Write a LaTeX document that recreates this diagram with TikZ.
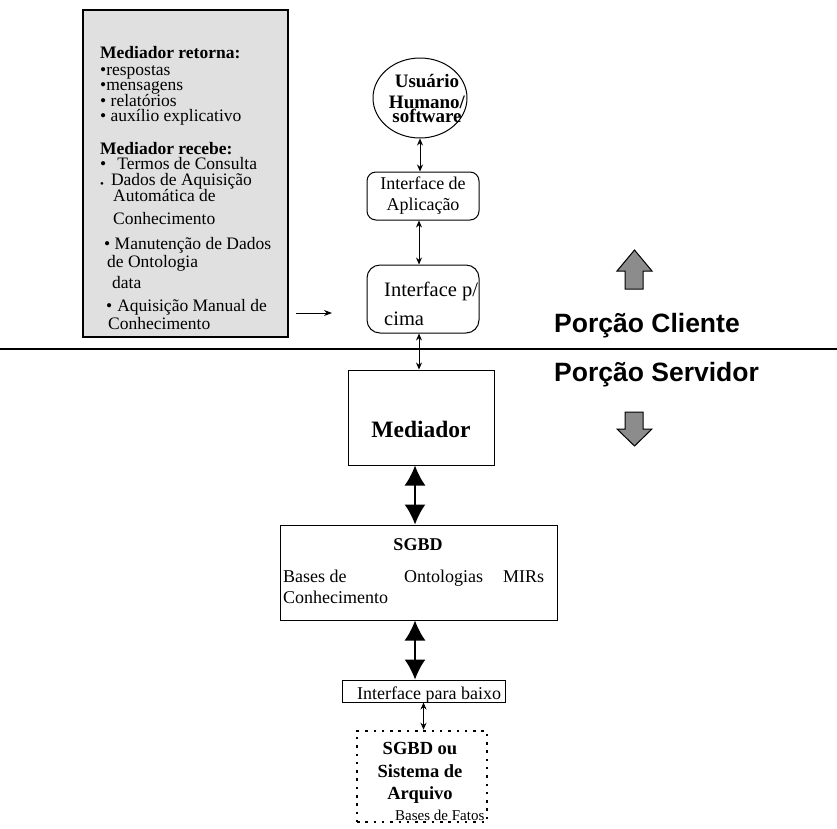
\documentclass[tikz,border=0pt]{standalone}
\usepackage{fontspec}
\setmainfont{Liberation Serif}
\setsansfont{Liberation Sans}
\usetikzlibrary{arrows.meta,shapes.geometric}

\tikzset{
  box/.style={draw, line width=1pt, inner sep=0},
  roundbox/.style={box, rounded corners=9pt},
  notetext/.style={anchor=base west, inner sep=0, font=\fontsize{17.5}{18}\selectfont},
  plain/.style={inner sep=0, font=\fontsize{18}{21}\selectfont},
  link/.style={{Stealth[length=7pt,width=6pt]}-{Stealth[length=7pt,width=6pt]}, line width=1pt},
  biglink/.style={{Latex[length=20pt,width=21pt]}-{Latex[length=20pt,width=21pt]}, line width=1.5pt},
  portion/.style={anchor=base west, inner sep=0, font=\sffamily\bfseries\fontsize{26.5}{28}\selectfont},
  blockarrow/.style={draw, line width=1pt, fill=black!45},
}

\begin{document}
\begin{tikzpicture}[x=1pt, y=-1pt]

        \useasboundingbox (0,0) rectangle (837,828);

        % caixa de notas
        \node[box, line width=1.5pt, fill=black!12, minimum width=205pt, minimum height=327pt] (notes) at (185.5,173.5) {};
        \foreach \x/\y/\t [count=\i] in {
                100/58/{\textbf{Mediador retorna:}},
                100/75/{•respostas},
                100/90/{•mensagens},
                100/106/{• relatórios},
                100/121/{• auxílio explicativo},
                100/154/{\textbf{Mediador recebe:}},
                100/169/{•\hspace{11pt}Termos de Consulta},
                100/185/{\raisebox{-2pt}{\fontsize{11}{11}\selectfont •}\hspace{7pt}Dados de Aquisição},
                113/201/{Automática de},
                113/224/{Conhecimento},
                104/249/{• Manutenção de Dados},
                107/267/{de Ontologia},
                112/288/{data},
                106/311/{•\hspace{5pt}Aquisição Manual de},
                108/329/{Conhecimento}}
                \node[notetext] (note\i) at (\x,\y) {\t};

        \coordinate (hin) at (296,313);
        \coordinate (hout) at (332,313);
        \draw[-{Stealth[length=8pt,width=6pt]}, line width=1pt] (hin) -- (hout);

        % lado cliente
        \node[draw, ellipse, line width=1pt, minimum width=94pt, minimum height=80pt, inner sep=0] (user) at (420,98) {};
        \node[plain, align=center, font=\bfseries\fontsize{19}{21}\selectfont] (usertext) at (427,98) {Usuário\\Humano/\\[-7pt]software};

        \node[roundbox, minimum width=112pt, minimum height=48pt, align=center, font=\fontsize{18}{21}\selectfont] (appif) at (423,196) {Interface de\\Aplicação};

        \node[roundbox, rounded corners=13pt, minimum width=112pt, minimum height=68pt] (upif) at (423,299) {};
        \node[plain, anchor=west, align=left, font=\fontsize{20.5}{29}\selectfont] (uptext) at (384,303.5) {Interface p/\\cima};

        \draw[link] (user.south) -- (user.south |- appif.north);
        \draw[link] ([xshift=-4pt]appif.south) -- ([xshift=-4pt]upif.north);

        \coordinate (cutl) at (0,349);
        \coordinate (cutr) at (837,349);
        \draw[line width=2pt] (cutl) -- (cutr);

        \node[portion] (client) at (554,332) {Porção Cliente};
        \node[portion] (server) at (554,381) {Porção Servidor};

        \draw[blockarrow] (625,289) -- (625,271) -- (617,271) -- (634.5,250) -- (652,271) -- (643,271) -- (643,289) -- cycle;
        \draw[blockarrow] (625,412) -- (625,429) -- (617,429) -- (634.5,446) -- (652,429) -- (643,429) -- (643,412) -- cycle;

        % lado servidor
        \node[box, minimum width=146pt, minimum height=95pt] (mediador) at (421,417.5) {};
        \node[inner sep=0, anchor=base, font=\bfseries\fontsize{23.5}{26}\selectfont] (medtext) at (421,437) {Mediador};

        \draw[link] ([xshift=-4pt]upif.south) -- ([xshift=-4pt]upif.south |- mediador.north);

        \node[box, minimum width=277pt, minimum height=95pt] (sgbd) at (418.5,572.5) {};
        \node[plain, anchor=base, font=\bfseries\fontsize{18}{21}\selectfont] (sgbdtitle) at (418,550) {SGBD};
        \node[plain, anchor=west, align=left] (kb) at (283,586.5) {Bases de\\Conhecimento};
        \node[plain, anchor=base west] (onto) at (404,582) {Ontologias};
        \node[plain, anchor=base west] (mirs) at (503,582) {MIRs};

        \draw[biglink] ([xshift=-6pt]mediador.south) -- ([xshift=-6pt]mediador.south |- sgbd.north);

        \node[box, minimum width=163pt, minimum height=22pt] (downif) at (423.5,691) {};
        \node[plain, anchor=base west] (downtext) at (357,699) {Interface para baixo};

        \draw[biglink] ([xshift=-3.5pt]sgbd.south) -- ([xshift=-3.5pt]sgbd.south |- downif.north);

        \node[draw, line width=2.5pt, dash pattern=on 2.5pt off 5.8pt, minimum width=130pt, minimum height=91pt, inner sep=0] (files) at (422,776.5) {};
        \node[plain, align=center, font=\bfseries\fontsize{18.5}{22.5}\selectfont] (filetext) at (420,773.3) {SGBD ou\\Sistema de\\Arquivo};
        \node[inner sep=0, anchor=base west, font=\fontsize{15}{17}\selectfont] (facts) at (395,820) {Bases de Fatos};

        \draw[link] (downif.south) -- (downif.south |- files.north);

\end{tikzpicture}
\end{document}
